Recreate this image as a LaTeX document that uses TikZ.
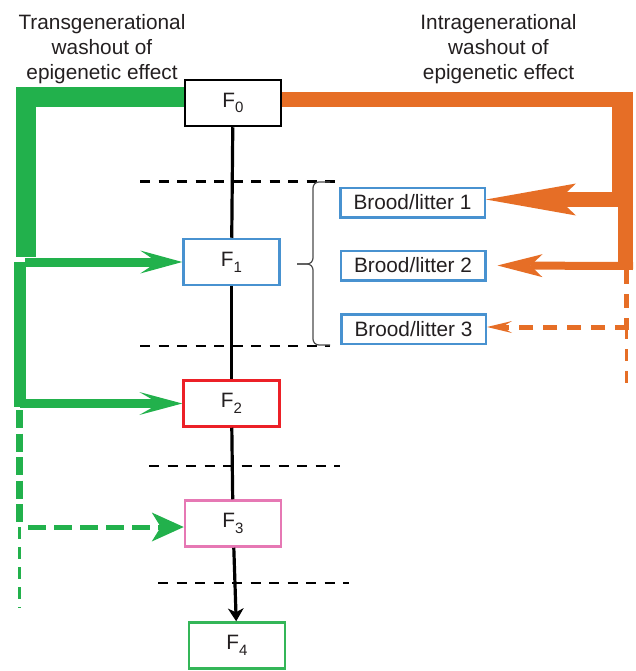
\documentclass[tikz,border=0pt]{standalone}
\usepackage{fontspec}
\setmainfont{Liberation Sans}
\usepackage{xcolor}
\usetikzlibrary{
  arrows.meta
}
\definecolor{textgray}{RGB}{35,31,32}
\definecolor{transgreen}{RGB}{34,177,76}
\definecolor{intraorange}{RGB}{230,110,38}
\definecolor{litterblue}{RGB}{72,146,208}
\definecolor{gentwored}{RGB}{236,32,39}
\definecolor{genthreepink}{RGB}{230,120,180}
\definecolor{genfourgreen}{RGB}{52,182,88}
\newcommand{\gen}[1]{F\raisebox{-0.28em}{\fontsize{15}{15}\selectfont #1}}
\tikzset{
  labelfont/.style={font=\fontsize{20.8}{25}\selectfont,text=textgray},
  headlabel/.style={labelfont,align=center,inner sep=0pt},
  genbox/.style={
    draw,
    line width=2.5pt,
    minimum width=96pt,
    minimum height=46pt,
    inner sep=0pt,
    labelfont
  },
  broodbox/.style={
    draw=litterblue,
    line width=2.5pt,
    minimum width=144.5pt,
    minimum height=29.5pt,
    inner sep=0pt,
    labelfont
  },
  sepline/.style={line width=2.5pt,dash pattern=on 10pt off 8.5pt},
  lineage/.style={line width=3.2pt},
  litterbrace/.style={line width=1.2pt,draw=black!70,rounded corners=6pt},
  transpath/.style={draw=transgreen},
  intrapath/.style={draw=intraorange}
}

\begin{document}
\begin{tikzpicture}[x=1pt,y=-1pt]
  \useasboundingbox (0,0) rectangle (636,671);

  \node[headlabel] (translabel) at (102,49) {Transgenerational\\washout of\\epigenetic effect};
  \node[headlabel] (intralabel) at (498.5,49) {Intragenerational\\washout of\\epigenetic effect};

  \foreach \y/\xa/\xb in {181.5/140/340, 346/140/330, 466/149/340, 583/158/349}
    \draw[sepline] (\xa,\y) -- (\xb,\y);

  \node[genbox,draw=black] (f0) at (233,103) {\gen{0}};
  \node[genbox,draw=litterblue] (f1) at (231.5,262) {\gen{1}};
  \node[genbox,draw=gentwored] (f2) at (231.5,403.5) {\gen{2}};
  \node[genbox,draw=genthreepink] (f3) at (233,523.5) {\gen{3}};
  \node[genbox,draw=genfourgreen] (f4) at (237,645.5) {\gen{4}};

  \draw[lineage] (f0) -- (f1);
  \draw[lineage] (f1) -- (f2);
  \draw[lineage] (f2) -- (f3);
  \draw[lineage,-{Stealth[length=13pt,width=16pt,inset=4pt,line width=0pt]}] (f3) -- (f4);

  \node[broodbox] (b1) at (412.5,202.5) {Brood/litter 1};
  \node[broodbox] (b2) at (413,265.5) {Brood/litter 2};
  \node[broodbox] (b3) at (413.5,329) {Brood/litter 3};
  \coordinate (bracetip) at (297,264);
  \draw[litterbrace] (330,182) -- (313,182) -- (313,264) -- (bracetip);
  \draw[litterbrace] (330,345) -- (313,345) -- (313,264) -- (bracetip);

  % transgenerational (green)
  \coordinate (gtop) at (25.5,257);
  \coordinate (gone) at (25,262);
  \coordinate (gmid) at (19.5,262);
  \coordinate (gtwo) at (19.5,407);
  \coordinate (gtwoh) at (19.5,403.5);
  \coordinate (gdash) at (19.5,410);
  \coordinate (gthree) at (19.5,527);
  \coordinate (gend) at (19.5,608);
  \draw[transpath,line width=20pt] ([yshift=6pt]f0.west) -| (gtop);
  \draw[transpath,line width=9pt,-{Stealth[length=42pt,width=23pt,inset=17pt,line width=0pt]}] (gone) -- (f1.west);
  \draw[transpath,line width=12pt] (gmid) -- (gtwo);
  \draw[transpath,line width=8.5pt,-{Stealth[length=43pt,width=23pt,inset=20pt,line width=0pt]}] (gtwoh) -- (f2.west);
  \draw[transpath,line width=7pt,dash pattern=on 18pt off 5.5pt] (gdash) -- (gthree);
  \draw[transpath,line width=5pt,dash pattern=on 18pt off 8pt,-{Stealth[length=32pt,width=29pt,inset=9pt,line width=0pt]}] ([xshift=8.5pt]gthree) -- ([yshift=-3.5pt]f3.west);
  \draw[transpath,line width=3.5pt,dash pattern=on 12pt off 8pt] (gthree) -- (gend);

  % intragenerational (orange)
  \coordinate (ocorner) at (633,99.5);
  \coordinate (otop) at (622.5,92);
  \coordinate (oone) at (622.5,192);
  \coordinate (ofirst) at (633,199.5);
  \coordinate (omid) at (625.5,192);
  \coordinate (olow) at (625.5,270);
  \coordinate (osecond) at (633,266);
  \coordinate (odash) at (626.5,270);
  \coordinate (othird) at (626.5,327);
  \coordinate (oend) at (626.5,390);
  \draw[intrapath,line width=15pt] ([yshift=3.5pt]f0.east) -- (ocorner);
  \draw[intrapath,line width=21pt] (otop) -- (oone);
  \draw[intrapath,line width=15pt,-{Stealth[length=90pt,width=32pt,inset=17pt,line width=0pt]}] (ofirst) -- ([yshift=3pt]b1.east);
  \draw[intrapath,line width=15pt] (omid) -- (olow);
  \draw[intrapath,line width=8pt,-{Stealth[length=45pt,width=23pt,inset=12pt,line width=0pt]}] (osecond) -- ([xshift=11pt]b2.east);
  \draw[intrapath,line width=5pt,dash pattern=on 14pt off 10pt] (odash) -- (othird);
  \draw[intrapath,line width=5pt,dash pattern=on 14pt off 10pt,-{Stealth[length=25pt,width=12pt,inset=10pt,line width=0pt]}] ([xshift=2.5pt]othird) -- ([yshift=2pt]b3.east);
  \draw[intrapath,line width=3.5pt,dash pattern=on 12pt off 10pt] (othird) -- (oend);
\end{tikzpicture}
\end{document}
